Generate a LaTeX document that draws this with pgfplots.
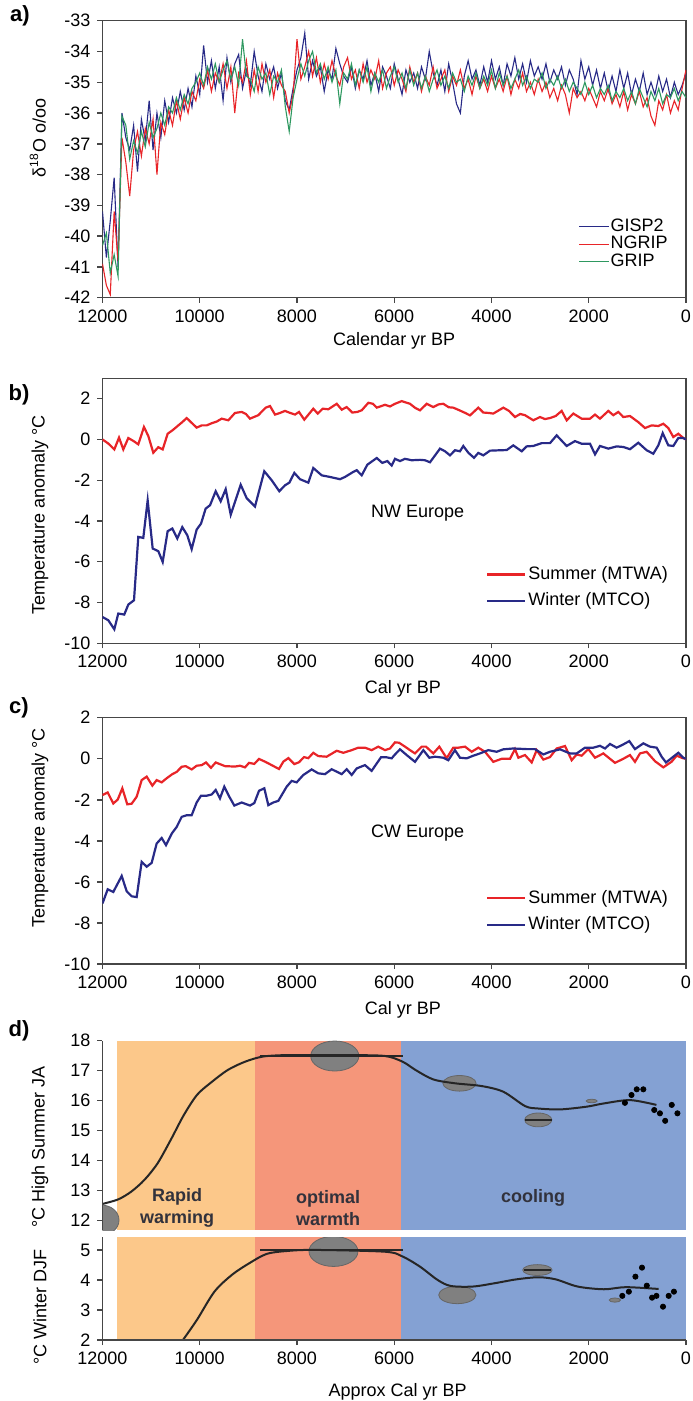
\documentclass[border=0pt]{standalone}
\usepackage{pgfplots}
\usepackage{pgfplotstable}
\pgfplotsset{compat=1.18}
\usepackage{fontspec}
\setmainfont{Liberation Sans}
\definecolor{cblue}{RGB}{40,42,135}
\definecolor{cred}{RGB}{232,36,40}
\definecolor{cgreen}{RGB}{46,152,96}
\definecolor{dorange}{RGB}{252,200,138}
\definecolor{dsalmon}{RGB}{245,150,122}
\definecolor{dblue}{RGB}{132,161,211}
\definecolor{framec}{RGB}{70,70,70}
\definecolor{egray}{RGB}{128,128,128}
\definecolor{txtd}{RGB}{50,50,60}
\newcommand{\fs}{\fontsize{9}{10.8}\selectfont}

\pgfplotstableread{
yr g n r
12000 -39.2 -40.9 -40.3
11920 -40.7 -41.6 -39.9
11840 -39.5 -41.9 -41.2
11760 -38.1 -39.2 -40.6
11680 -41.0 -40.8 -41.3
11600 -36.0 -36.8 -36.1
11520 -36.8 -37.6 -36.4
11440 -37.2 -38.7 -37.5
11360 -36.4 -37.2 -36.9
11280 -37.9 -36.6 -37.3
11200 -36.2 -37.4 -36.6
11120 -36.9 -36.5 -37.1
11040 -35.6 -37.0 -36.3
10960 -37.2 -36.2 -36.8
10880 -36.0 -38.0 -36.5
10800 -36.8 -36.3 -36.0
10720 -35.6 -36.7 -36.4
10640 -36.3 -35.9 -35.8
10560 -35.5 -36.4 -36.0
10480 -36.0 -35.6 -35.5
10400 -35.3 -36.2 -35.9
10320 -35.9 -35.5 -35.4
10240 -35.2 -36.0 -35.7
10160 -35.8 -35.3 -35.2
10080 -34.8 -35.6 -35.0
10000 -35.4 -34.9 -34.7
9920 -33.8 -35.2 -35.1
9840 -35.0 -34.6 -34.5
9760 -34.3 -35.3 -34.9
9680 -35.2 -34.7 -34.4
9600 -34.5 -35.0 -35.0
9520 -35.6 -34.4 -34.6
9440 -34.2 -35.2 -34.3
9360 -35.0 -34.5 -34.9
9280 -34.4 -36.0 -34.5
9200 -34.1 -34.7 -35.1
9120 -35.2 -35.0 -33.6
9040 -34.6 -34.3 -34.8
8960 -35.1 -35.4 -34.9
8880 -34.0 -34.6 -35.3
8800 -34.8 -35.3 -34.5
8720 -35.3 -34.4 -34.9
8640 -34.4 -35.0 -34.7
8560 -34.9 -34.6 -35.4
8480 -34.5 -35.5 -34.8
8400 -35.2 -34.7 -35.0
8320 -34.7 -35.1 -34.6
8240 -35.6 -35.3 -35.8
8160 -35.9 -36.0 -36.6
8080 -35.2 -35.4 -35.5
8000 -34.6 -33.6 -34.9
7920 -34.2 -34.9 -34.4
7840 -33.4 -34.5 -34.8
7760 -34.9 -34.0 -34.3
7680 -34.3 -34.8 -34.0
7600 -34.8 -34.2 -34.7
7520 -34.5 -35.0 -34.4
7440 -35.3 -34.4 -34.9
7360 -34.6 -34.9 -34.5
7280 -34.9 -34.3 -35.0
7200 -33.9 -34.8 -34.6
7120 -34.4 -35.1 -35.7
7040 -34.8 -34.5 -34.7
6960 -35.0 -34.2 -34.9
6880 -34.5 -34.9 -34.4
6800 -35.2 -34.6 -35.1
6720 -34.6 -35.2 -34.6
6640 -34.9 -34.4 -35.0
6560 -34.3 -35.0 -34.5
6480 -35.1 -34.6 -35.3
6400 -34.7 -34.9 -34.7
6320 -35.3 -34.3 -35.0
6240 -34.5 -35.2 -34.6
6160 -34.8 -34.7 -35.2
6080 -35.2 -34.5 -34.8
6000 -34.4 -35.1 -34.5
5920 -34.9 -34.6 -35.0
5840 -35.4 -34.9 -34.7
5760 -34.6 -35.3 -35.2
5680 -35.0 -34.5 -34.6
5600 -34.7 -35.0 -35.1
5520 -35.2 -34.7 -34.7
5440 -34.5 -35.3 -35.2
5360 -34.9 -34.8 -34.8
5280 -34.0 -35.1 -35.3
5200 -34.7 -34.5 -34.9
5120 -35.1 -35.2 -34.6
5040 -34.6 -34.9 -35.1
4960 -35.3 -34.6 -34.8
4880 -34.4 -35.3 -35.2
4800 -35.0 -34.8 -34.7
4720 -35.7 -35.1 -35.0
4640 -36.0 -34.6 -34.9
4560 -34.8 -35.2 -35.3
4480 -34.3 -34.9 -34.8
4400 -34.9 -35.4 -35.1
4320 -34.6 -34.8 -34.7
4240 -35.1 -35.2 -35.2
4160 -34.5 -34.9 -34.8
4080 -35.0 -35.3 -35.1
4000 -34.3 -34.8 -34.6
3920 -34.9 -35.2 -35.2
3840 -34.5 -34.9 -34.7
3760 -35.1 -35.3 -35.1
3680 -34.4 -34.8 -34.8
3600 -34.8 -35.4 -35.2
3520 -34.2 -34.9 -34.9
3440 -34.9 -35.2 -34.6
3360 -34.4 -34.7 -35.1
3280 -35.0 -35.3 -34.8
3200 -34.3 -35.0 -35.2
3120 -34.8 -35.4 -34.9
3040 -34.5 -34.9 -35.0
2960 -34.9 -35.3 -34.7
2880 -34.4 -35.0 -35.2
2800 -35.0 -35.5 -34.9
2720 -34.6 -35.2 -35.1
2640 -34.9 -35.6 -34.8
2560 -34.5 -35.1 -35.2
2480 -35.1 -35.4 -34.9
2400 -34.6 -36.0 -35.3
2320 -34.9 -35.2 -35.0
2240 -35.4 -35.5 -35.2
2160 -34.3 -35.3 -35.4
2080 -34.9 -35.6 -35.0
2000 -34.5 -35.2 -35.4
1920 -35.1 -35.5 -35.1
1840 -34.6 -35.8 -35.5
1760 -35.2 -35.3 -35.2
1680 -34.7 -35.6 -35.4
1600 -35.3 -35.2 -35.1
1520 -34.8 -35.7 -35.6
1440 -35.3 -35.4 -35.3
1360 -34.6 -35.8 -35.5
1280 -35.2 -35.3 -35.2
1200 -34.7 -35.9 -35.6
1120 -35.4 -35.4 -35.3
1040 -34.9 -35.7 -35.7
960 -35.3 -35.3 -35.2
880 -34.7 -35.8 -35.5
800 -35.4 -35.5 -35.8
720 -35.0 -36.1 -35.3
640 -35.4 -36.4 -35.6
560 -34.8 -35.6 -35.2
480 -35.3 -35.9 -35.7
400 -34.9 -35.4 -35.4
320 -35.5 -36.0 -35.5
240 -35.0 -35.6 -35.2
160 -35.4 -35.9 -35.6
80 -35.1 -35.2 -35.3
0 -34.7 -34.6 -35.5
}\tableA

\pgfplotsset{
  base/.style={
    scale only axis, width=291.75pt, x dir=reverse, xmin=0, xmax=12000,
    xtick={0,2000,...,12000}, scaled x ticks=false, scaled y ticks=false,
    tick align=outside, tick pos=left, major tick length=2.5pt,
    axis line style={framec, line width=0.7pt},
    tick style={framec, line width=0.7pt},
    tick label style={font=\fs},
    label style={font=\fs},
    /pgf/number format/assume math mode=true,
    /pgf/number format/1000 sep={},
  },
  tleg/.style={
    legend style={draw=none, fill=none, font=\fs, inner sep=0pt, row sep=3pt,
      nodes={inner sep=1pt, text height=6.5pt, text depth=1.8pt}},
    legend cell align=left,
    legend image code/.code={\draw[##1] (0pt,0pt) -- (15.5pt,0pt); \path (0pt,0pt) -- (19pt,0pt);},
  },
}

\begin{document}
\begin{tikzpicture}
\path[use as bounding box] (0pt,0pt) rectangle (346pt,-700.5pt);

% ---------- a ----------
\begin{axis}[base, at={(51.25pt,-10.35pt)}, anchor=north west, height=138.5pt,
  ymin=-42, ymax=-33, ytick={-42,-41,...,-33},
  xlabel={Calendar yr BP}, ylabel={δ\textsuperscript{18}O o/oo},
  xlabel style={at={(axis description cs:0.5,-0.156)}, anchor=center},
  ylabel style={at={(axis description cs:-0.111,0.577)}, anchor=center},
  legend style={at={(axis description cs:0.815,0.29)}, anchor=north west, draw=none, fill=none,
    font=\fs, inner sep=0pt, row sep=0pt, nodes={inner sep=0.5pt, text height=6.3pt, text depth=1.5pt}},
  legend cell align=left,
  legend image code/.code={\draw[#1] (0pt,0pt) -- (14.5pt,0pt); \path (0pt,0pt) -- (15pt,0pt);},
]
\addplot[cblue, line width=0.55pt] table[x=yr,y=g] {\tableA};
\addplot[cred, line width=0.55pt] table[x=yr,y=n] {\tableA};
\addplot[cgreen, line width=0.55pt] table[x=yr,y=r] {\tableA};
\legend{GISP2,NGRIP,GRIP}
\end{axis}

% ---------- b ----------
\begin{axis}[base, tleg, at={(51.25pt,-189.15pt)}, anchor=north west, height=132.5pt,
  ymin=-10, ymax=3, ytick={-10,-8,...,2},
  xlabel={Cal yr BP}, ylabel={Temperature anomaly °C},
  xlabel style={at={(axis description cs:0.515,-0.172)}, anchor=center},
  ylabel style={at={(axis description cs:-0.107,0.484)}, anchor=center},
  legend style={at={(axis description cs:0.657,0.30)}, anchor=north west},
]
\addplot[cred, line width=1.1pt] coordinates {(12000,0.00)(11880,-0.20)(11757,-0.49)(11660,0.09)(11572,-0.49)(11469,0.07)(11360,-0.08)(11264,-0.24)(11147,0.61)(11058,0.17)(10955,-0.65)(10852,-0.38)(10762,-0.49)(10660,0.28)(10560,0.45)(10460,0.65)(10360,0.85)(10268,1.05)(10160,0.80)(10063,0.58)(9960,0.69)(9857,0.69)(9750,0.80)(9650,0.88)(9549,1.02)(9412,0.94)(9275,1.30)(9138,1.35)(9050,1.25)(8967,1.02)(8796,1.19)(8644,1.56)(8555,1.64)(8452,1.22)(8350,1.30)(8247,1.40)(8140,1.30)(8041,1.22)(7959,1.35)(7850,0.97)(7665,1.51)(7574,1.27)(7471,1.51)(7356,1.48)(7183,1.75)(7080,1.46)(6978,1.59)(6862,1.32)(6760,1.35)(6669,1.43)(6532,1.80)(6440,1.75)(6360,1.56)(6190,1.70)(6087,1.62)(5984,1.75)(5847,1.88)(5676,1.75)(5570,1.55)(5470,1.43)(5332,1.75)(5197,1.59)(5090,1.72)(4991,1.75)(4880,1.58)(4786,1.56)(4650,1.42)(4540,1.30)(4442,1.18)(4271,1.56)(4168,1.32)(4060,1.30)(3963,1.27)(3757,1.56)(3640,1.40)(3517,1.10)(3410,1.25)(3311,1.19)(3140,0.94)(3003,1.10)(2900,1.00)(2797,1.05)(2680,1.15)(2557,1.40)(2454,0.94)(2317,1.27)(2146,1.02)(1974,1.02)(1871,1.22)(1769,1.02)(1597,1.40)(1495,1.19)(1392,1.35)(1289,1.10)(1152,1.15)(981,0.85)(843,0.56)(706,0.69)(569,0.66)(466,0.77)(364,0.56)(261,0.12)(158,0.28)(55,0.07)(0,0.00)};
\addplot[cblue, line width=1.1pt] coordinates {(12000,-8.71)(11880,-8.87)(11757,-9.31)(11675,-8.54)(11552,-8.59)(11469,-8.10)(11352,-7.89)(11264,-4.78)(11161,-4.83)(11071,-2.99)(10968,-5.35)(10852,-5.48)(10762,-6.01)(10660,-4.50)(10564,-4.37)(10462,-4.86)(10359,-4.30)(10256,-4.70)(10166,-5.38)(10063,-4.42)(9974,-4.13)(9878,-3.39)(9789,-3.23)(9672,-2.54)(9569,-3.03)(9466,-2.44)(9363,-3.69)(9260,-2.95)(9158,-2.22)(9035,-2.88)(8864,-3.29)(8673,-1.56)(8521,-2.00)(8364,-2.54)(8247,-2.25)(8158,-2.12)(8055,-1.64)(7938,-1.95)(7767,-2.12)(7665,-1.40)(7492,-1.76)(7321,-1.84)(7116,-1.95)(7013,-1.84)(6842,-1.59)(6772,-1.51)(6669,-1.76)(6554,-1.24)(6360,-0.91)(6246,-1.15)(6143,-1.06)(6053,-1.28)(5984,-0.95)(5882,-1.06)(5779,-0.95)(5641,-1.02)(5470,-1.00)(5367,-1.02)(5265,-1.12)(5059,-0.45)(4956,-0.58)(4853,-0.78)(4751,-0.53)(4648,-0.58)(4580,-0.32)(4477,-0.65)(4360,-0.90)(4271,-0.66)(4168,-0.78)(4031,-0.55)(3825,-0.53)(3687,-0.52)(3552,-0.29)(3379,-0.58)(3277,-0.34)(3140,-0.32)(2968,-0.18)(2797,-0.18)(2660,0.20)(2454,-0.32)(2283,-0.08)(2146,-0.21)(1974,-0.21)(1871,-0.73)(1769,-0.32)(1597,-0.45)(1426,-0.34)(1289,-0.37)(1152,-0.48)(981,-0.16)(809,-0.53)(672,-0.70)(569,-0.29)(479,0.31)(364,-0.29)(261,-0.32)(158,0.07)(55,0.07)(0,0.00)};
\legend{Summer (MTWA),Winter (MTCO)}
\node[font=\fs] at (axis cs:5520,-3.62) {NW Europe};
\end{axis}

% ---------- c ----------
\begin{axis}[base, tleg, at={(51.25pt,-358.85pt)}, anchor=north west, height=123.15pt,
  ymin=-10, ymax=2, ytick={-10,-8,...,2},
  xlabel={Cal yr BP}, ylabel={Temperature anomaly °C},
  xlabel style={at={(axis description cs:0.515,-0.187)}, anchor=center},
  ylabel style={at={(axis description cs:-0.107,0.552)}, anchor=center},
  legend style={at={(axis description cs:0.657,0.31)}, anchor=north west},
]
\addplot[cred, line width=1.1pt] coordinates {(12000,-1.77)(11893,-1.64)(11778,-2.18)(11687,-1.99)(11592,-1.44)(11490,-2.22)(11400,-2.19)(11297,-1.85)(11194,-1.04)(11091,-0.87)(10975,-1.31)(10886,-1.04)(10783,-1.15)(10680,-0.95)(10564,-0.75)(10474,-0.64)(10371,-0.39)(10289,-0.36)(10166,-0.52)(10063,-0.34)(9960,-0.31)(9871,-0.18)(9769,-0.44)(9672,-0.18)(9481,-0.36)(9275,-0.38)(9172,-0.34)(9069,-0.42)(8987,-0.20)(8878,-0.25)(8781,-0.01)(8658,-0.14)(8521,-0.31)(8370,-0.50)(8281,-0.14)(8178,0.03)(8055,-0.26)(7959,-0.17)(7856,0.08)(7767,0.03)(7665,0.29)(7562,0.13)(7390,0.10)(7183,0.39)(7047,0.29)(6875,0.42)(6739,0.54)(6602,0.54)(6465,0.42)(6328,0.59)(6190,0.42)(6087,0.50)(5984,0.80)(5900,0.78)(5779,0.59)(5676,0.42)(5573,0.26)(5435,0.59)(5347,0.59)(5197,0.26)(5073,0.59)(4922,0.03)(4786,0.54)(4683,0.54)(4545,0.59)(4407,0.34)(4271,0.54)(4134,0.34)(3963,-0.15)(3790,0.00)(3619,0.00)(3517,0.47)(3448,0.05)(3311,0.18)(3173,-0.18)(3071,0.42)(2934,-0.04)(2797,0.08)(2660,0.50)(2488,0.62)(2351,-0.07)(2248,0.21)(2146,0.15)(2009,0.47)(1871,0.05)(1700,0.26)(1460,-0.20)(1289,0.00)(1152,0.18)(1049,-0.15)(946,0.26)(809,0.34)(637,-0.12)(466,-0.42)(294,-0.14)(192,0.15)(69,0.03)(0,0.00)};
\addplot[cblue, line width=1.1pt] coordinates {(12000,-7.05)(11893,-6.36)(11778,-6.49)(11605,-5.71)(11502,-6.46)(11400,-6.70)(11297,-6.74)(11194,-5.02)(11091,-5.26)(10988,-5.07)(10886,-4.13)(10783,-3.86)(10694,-4.21)(10577,-3.65)(10474,-3.32)(10371,-2.83)(10268,-2.75)(10166,-2.75)(10063,-2.13)(9974,-1.80)(9857,-1.80)(9754,-1.74)(9672,-1.52)(9584,-1.93)(9495,-1.36)(9392,-1.85)(9289,-2.28)(9138,-2.13)(8967,-2.28)(8878,-2.16)(8781,-1.56)(8672,-1.44)(8590,-2.26)(8487,-2.13)(8384,-2.05)(8212,-1.36)(8110,-1.08)(8007,-1.15)(7870,-0.79)(7698,-0.52)(7562,-0.71)(7424,-0.75)(7287,-0.51)(7080,-0.75)(6978,-0.51)(6875,-0.79)(6772,-0.47)(6602,-0.31)(6465,-0.59)(6273,0.07)(6156,0.07)(6053,0.02)(5984,0.21)(5882,0.46)(5744,0.18)(5573,-0.15)(5402,0.42)(5279,0.05)(5162,0.10)(4991,0.05)(4888,-0.07)(4751,0.42)(4648,0.05)(4510,0.02)(4374,0.15)(4237,0.26)(4066,0.42)(3893,0.34)(3757,0.46)(3552,0.50)(3277,0.47)(3106,0.47)(2934,0.21)(2797,0.34)(2591,0.46)(2386,0.26)(2248,0.26)(2077,0.54)(1906,0.54)(1769,0.63)(1666,0.50)(1563,0.72)(1426,0.54)(1289,0.70)(1166,0.86)(1049,0.47)(878,0.75)(740,0.59)(603,0.54)(501,0.10)(411,-0.18)(261,0.10)(158,0.29)(55,0.05)(0,0.00)};
\legend{Summer (MTWA),Winter (MTCO)}
\node[font=\fs] at (axis cs:5520,-3.62) {CW Europe};
\end{axis}

% ---------- d upper ----------
\begin{axis}[base, at={(51.25pt,-520.35pt)}, anchor=north west, height=94.65pt,
  ymin=11.69, ymax=18, ytick={12,...,18},
  axis x line=none, axis y line*=left, axis on top,
  ylabel={°C High Summer JA},
  ylabel style={at={(axis description cs:-0.107,0.438)}, anchor=center},
]
\addplot[fill=dorange, draw=none] coordinates {(11700,11.69)(8860,11.69)(8860,18)(11700,18)} -- cycle;
\addplot[fill=dsalmon, draw=none] coordinates {(8860,11.69)(5870,11.69)(5870,18)(8860,18)} -- cycle;
\addplot[fill=dblue, draw=none] coordinates {(5870,11.69)(0,11.69)(0,18)(5870,18)} -- cycle;
\draw[fill=egray, draw=black!60, line width=0.4pt] (axis cs:12020,12.02) ellipse [x radius=360, y radius=0.5];
\draw[fill=egray, draw=black!60, line width=0.4pt] (axis cs:7223,17.49) ellipse [x radius=495, y radius=0.5];
\draw[fill=egray, draw=black!60, line width=0.4pt] (axis cs:4658,16.58) ellipse [x radius=342, y radius=0.26];
\draw[fill=egray, draw=black!60, line width=0.4pt] (axis cs:3038,15.36) ellipse [x radius=279, y radius=0.23];
\draw[fill=egray, draw=black!60, line width=0.4pt] (axis cs:1940,15.99) ellipse [x radius=113, y radius=0.06];
\addplot[black!85, line width=1pt] coordinates {(8753,17.5)(5810,17.5)};
\addplot[black!85, line width=0.8pt] coordinates {(3308,15.36)(2750,15.36)};
\addplot[black!85, line width=1pt, smooth] coordinates {(12000,12.56)(11678,12.71)(11408,12.97)(11138,13.36)(10868,13.91)(10598,14.69)(10328,15.52)(10058,16.19)(9788,16.58)(9428,17.02)(9068,17.30)(8708,17.47)(8258,17.52)(7808,17.52)(6908,17.52)(6188,17.49)(5828,17.30)(5558,17.02)(5198,16.71)(4748,16.58)(4208,16.49)(3758,16.30)(3308,15.82)(3038,15.74)(2588,15.71)(2048,15.80)(1688,15.91)(1148,16.02)(608,15.86)};
\addplot[only marks, mark=*, mark size=1.3pt, black] coordinates {(1256,15.93)(1121,16.19)(1013,16.38)(878,16.38)(653,15.69)(536,15.58)(428,15.33)(293,15.86)(176,15.58)};
\node[font=\fs\bfseries, text=txtd, align=center] at (axis cs:10463,12.42) {Rapid\\warming};
\node[font=\fs\bfseries, text=txtd, align=center] at (axis cs:7358,12.42) {optimal\\warmth};
\node[font=\fs\bfseries, text=txtd] at (axis cs:3146,12.75) {cooling};
\end{axis}

% ---------- d lower ----------
\begin{axis}[base, at={(51.25pt,-618.5pt)}, anchor=north west, height=51.5pt,
  ymin=2, ymax=5.43, ytick={2,3,4,5},
  axis x line*=bottom, axis y line*=left, axis on top,
  xlabel={Approx Cal yr BP}, ylabel={°C Winter DJF},
  xlabel style={at={(axis description cs:0.506,-0.505)}, anchor=center},
  ylabel style={at={(axis description cs:-0.107,0.32)}, anchor=center},
]
\addplot[fill=dorange, draw=none] coordinates {(11700,2)(8860,2)(8860,5.43)(11700,5.43)} -- cycle;
\addplot[fill=dsalmon, draw=none] coordinates {(8860,2)(5870,2)(5870,5.43)(8860,5.43)} -- cycle;
\addplot[fill=dblue, draw=none] coordinates {(5870,2)(0,2)(0,5.43)(5870,5.43)} -- cycle;
\draw[fill=egray, draw=black!60, line width=0.4pt] (axis cs:7250,4.95) ellipse [x radius=504, y radius=0.5];
\draw[fill=egray, draw=black!60, line width=0.4pt] (axis cs:4703,3.5) ellipse [x radius=383, y radius=0.29];
\draw[fill=egray, draw=black!60, line width=0.4pt] (axis cs:3056,4.33) ellipse [x radius=302, y radius=0.18];
\draw[fill=egray, draw=black!60, line width=0.4pt] (axis cs:1463,3.33) ellipse [x radius=117, y radius=0.07];
\addplot[black!85, line width=1pt] coordinates {(8753,5.0)(5810,5.0)};
\addplot[black!85, line width=0.8pt] coordinates {(3335,4.33)(2768,4.33)};
\addplot[black!85, line width=1pt, smooth] coordinates {(10346,2.0)(10058,2.67)(9698,3.61)(9338,4.17)(8978,4.56)(8618,4.87)(8168,4.97)(7628,5.0)(6188,4.94)(5828,4.78)(5468,4.44)(5108,4.0)(4838,3.8)(4388,3.78)(3938,3.89)(3488,4.02)(3038,4.09)(2678,4.02)(2228,3.78)(1688,3.69)(1238,3.76)(563,3.70)};
\addplot[only marks, mark=*, mark size=1.3pt, black] coordinates {(1310,3.47)(1175,3.61)(1040,4.11)(905,4.41)(806,3.81)(698,3.41)(608,3.47)(473,3.11)(356,3.47)(248,3.61)};
\end{axis}

\node[font=\fontsize{11}{12}\selectfont\bfseries] at (10pt,-8pt) {a)};
\node[font=\fontsize{11}{12}\selectfont\bfseries] at (9.5pt,-197.5pt) {b)};
\node[font=\fontsize{11}{12}\selectfont\bfseries] at (9.5pt,-354pt) {c)};
\node[font=\fontsize{11}{12}\selectfont\bfseries] at (9.5pt,-515.5pt) {d)};
\end{tikzpicture}
\end{document}
